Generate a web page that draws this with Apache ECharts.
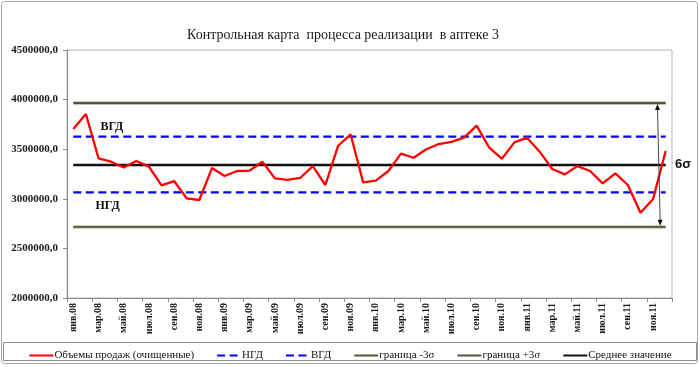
<!DOCTYPE html>
<html>
<head>
<meta charset="utf-8">
<script src="https://cdn.jsdelivr.net/npm/echarts@6/dist/echarts.min.js"></script>
<style>
html,body{margin:0;padding:0;background:#fff;}
#c{width:700px;height:367px;}
</style>
</head>
<body>
<div id="c"></div>
<script>
const categories = [
  'янв.08','фев.08','мар.08','апр.08','май.08','июн.08','июл.08','авг.08','сен.08','окт.08','ноя.08','дек.08',
  'янв.09','фев.09','мар.09','апр.09','май.09','июн.09','июл.09','авг.09','сен.09','окт.09','ноя.09','дек.09',
  'янв.10','фев.10','мар.10','апр.10','май.10','июн.10','июл.10','авг.10','сен.10','окт.10','ноя.10','дек.10',
  'янв.11','фев.11','мар.11','апр.11','май.11','июн.11','июл.11','авг.11','сен.11','окт.11','ноя.11','дек.11'
];
const sales = [
  3704000, 3855000, 3408000, 3374000, 3317000, 3381000, 3324000, 3136000, 3179000, 3005000, 2988000, 3310000,
  3230000, 3280000, 3285000, 3374000, 3206000, 3190000, 3210000, 3330000, 3139000, 3532000, 3650000, 3165000,
  3183000, 3280000, 3455000, 3414000, 3499000, 3552000, 3573000, 3616000, 3737000, 3515000, 3404000, 3569000,
  3616000, 3475000, 3300000, 3246000, 3330000, 3280000, 3156000, 3257000, 3139000, 2860000, 2998000, 3482000
];
const MEAN = 3342000;
const UPPER_3S = 3966000;
const LOWER_3S = 2718000;
const VGD = 3626000;
const NGD = 3064000;
const yTicks = [2000000, 2500000, 3000000, 3500000, 4000000, 4500000];

const meanLine = categories.map(() => MEAN);
const upperLine = categories.map(() => UPPER_3S);
const lowerLine = categories.map(() => LOWER_3S);
const vgdLine = categories.map(() => VGD);
const ngdLine = categories.map(() => NGD);

const SERIF = "'Liberation Serif','Times New Roman',serif";

const chart = echarts.init(document.getElementById('c'), null, {renderer: 'canvas'});

const option = {
  animation: false,
  backgroundColor: '#fff',
  title: {
    text: 'Контрольная карта  процесса реализации  в аптеке 3',
    left: 338, textAlign: 'center', top: 23,
    textStyle: {fontFamily: SERIF, fontSize: 14, fontWeight: 'normal', color: '#1a1a1a'}
  },
  grid: {left: 67, right: 28, top: 50, bottom: 69, show: true, borderColor: '#b4b4b4', borderWidth: 1, backgroundColor: 'transparent'},
  xAxis: {
    type: 'category', data: categories, boundaryGap: true,
    axisLine: {lineStyle: {color: '#8c8c8c', width: 1}},
    axisTick: {show: true, interval: 1, length: 4, lineStyle: {color: '#8c8c8c'}},
    axisLabel: {interval: 1, rotate: 90, margin: 5, fontFamily: SERIF, fontSize: 10, fontWeight: 'bold', color: '#1a1a1a'},
    splitLine: {show: false}
  },
  yAxis: {
    type: 'value', min: yTicks[0], max: yTicks[yTicks.length - 1], interval: 500000,
    axisLine: {show: true, lineStyle: {color: '#8c8c8c', width: 1}},
    axisTick: {show: true, length: 4, lineStyle: {color: '#8c8c8c'}},
    axisLabel: {margin: 9, fontFamily: SERIF, fontSize: 11, fontWeight: 'bold', color: '#1a1a1a',
      formatter: v => v + ',0'},
    splitLine: {show: false}
  },
  legend: {
    left: 'center', top: 345, itemWidth: 24, itemHeight: 8, itemGap: 22,
    itemStyle: {opacity: 0},
    textStyle: {fontFamily: SERIF, fontSize: 11, color: '#111', padding: [0, 0, 0, -4]},
    data: ['Объемы продаж (очищенные)', 'НГД', 'ВГД', 'граница -3σ', 'граница +3σ', 'Среднее значение']
  },
  series: [
    {name: 'Объемы продаж (очищенные)', type: 'line', data: sales, symbol: 'none', showSymbol: false, z: 3,
      lineStyle: {color: '#ff0000', width: 2.3}, itemStyle: {color: '#ff0000'}},
    {name: 'НГД', type: 'line', data: ngdLine, symbol: 'none', showSymbol: false, z: 2,
      lineStyle: {color: '#0000ff', width: 2.3, type: [8, 4.5]}, itemStyle: {color: '#0000ff'}},
    {name: 'ВГД', type: 'line', data: vgdLine, symbol: 'none', showSymbol: false, z: 2,
      lineStyle: {color: '#0000ff', width: 2.3, type: [8, 4.5]}, itemStyle: {color: '#0000ff'}},
    {name: 'граница -3σ', type: 'line', data: lowerLine, symbol: 'none', showSymbol: false, z: 2,
      lineStyle: {color: '#4f5a31', width: 2.2, shadowColor: 'rgba(0,0,0,0.25)', shadowOffsetY: 1}, itemStyle: {color: '#4f5a31'}},
    {name: 'граница +3σ', type: 'line', data: upperLine, symbol: 'none', showSymbol: false, z: 2,
      lineStyle: {color: '#4f5a31', width: 2.2, shadowColor: 'rgba(0,0,0,0.25)', shadowOffsetY: 1}, itemStyle: {color: '#4f5a31'}},
    {name: 'Среднее значение', type: 'line', data: meanLine, symbol: 'none', showSymbol: false, z: 2,
      lineStyle: {color: '#111111', width: 2.3, shadowColor: 'rgba(0,0,0,0.25)', shadowOffsetY: 1}, itemStyle: {color: '#111111'}}
  ]
};
chart.setOption(option);

// annotations placed from axis conversions
const pUp = chart.convertToPixel({gridIndex: 0}, [categories[46], UPPER_3S]);
const pLo = chart.convertToPixel({gridIndex: 0}, [categories[46], LOWER_3S]);
const pNext = chart.convertToPixel({gridIndex: 0}, [categories[47], MEAN]);
const pMean = chart.convertToPixel({gridIndex: 0}, [categories[46], MEAN]);
const pV = chart.convertToPixel({gridIndex: 0}, [categories[2], VGD]);
const pN = chart.convertToPixel({gridIndex: 0}, [categories[2], NGD]);
const step = pNext[0] - pUp[0];
const ax1 = pUp[0] + step * 0.35, ax2 = pUp[0] + step * 0.56;
const ay1 = pUp[1] + 1, ay2 = pLo[1] - 1;

chart.setOption({
  graphic: [
    {type: 'rect', silent: true, shape: {x: 1.5, y: 1.5, width: 696, height: 362, r: 3},
      style: {fill: 'none', stroke: '#a6a6a6', lineWidth: 1}},
    {type: 'rect', silent: true, shape: {x: 3.5, y: 342.5, width: 693, height: 18},
      style: {fill: 'none', stroke: '#8c8c8c', lineWidth: 1}},
    {type: 'text', silent: true, x: pV[0] + 2, y: pV[1] - 16,
      style: {text: 'ВГД', font: "bold 12px " + SERIF, fill: '#111'}},
    {type: 'text', silent: true, x: pN[0] - 3, y: pN[1] + 7,
      style: {text: 'НГД', font: "bold 12px " + SERIF, fill: '#111'}},
    {type: 'text', silent: true, x: 675, y: pMean[1] - 7,
      style: {text: '6σ', font: "bold 13px 'Liberation Sans',Arial,sans-serif", fill: '#111'}},
    {type: 'line', silent: true, shape: {x1: ax1, y1: ay1 + 5, x2: ax2, y2: ay2 - 5},
      style: {stroke: '#444', lineWidth: 1}, z: 10},
    {type: 'polygon', silent: true, shape: {points: [[ax1, ay1], [ax1 - 2.5, ay1 + 6], [ax1 + 2.5, ay1 + 6]]},
      style: {fill: '#111'}, z: 10},
    {type: 'polygon', silent: true, shape: {points: [[ax2, ay2], [ax2 - 2.5, ay2 - 6], [ax2 + 2.5, ay2 - 6]]},
      style: {fill: '#111'}, z: 10}
  ]
});
</script>
</body>
</html>
